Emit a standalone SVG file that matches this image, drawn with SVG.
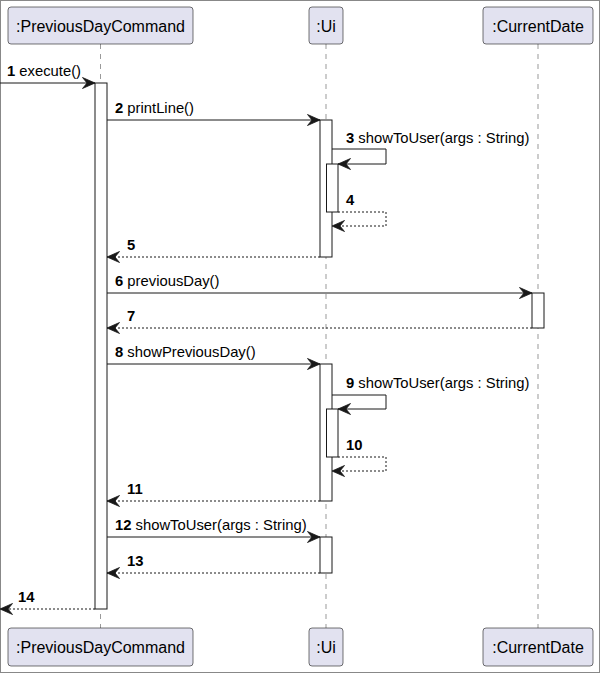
<svg xmlns="http://www.w3.org/2000/svg" width="600" height="673" viewBox="0 0 600 673">
<style>
.part rect{fill:#E2E2F0;stroke:#181818;stroke-width:0.6}
.part text{font-family:"Liberation Sans",Arial,sans-serif;font-size:16px;fill:#000;text-anchor:middle}
.life{stroke:#555;stroke-width:0.6;stroke-dasharray:5,5;fill:none}
.act{fill:#fff;stroke:#181818;stroke-width:1}
.msg{stroke:#181818;stroke-width:1;fill:none}
.ret{stroke:#181818;stroke-width:1;fill:none;stroke-dasharray:2,2}
.lbl{font-family:"Liberation Sans",Arial,sans-serif;font-size:14.8px;fill:#000}
.num{font-weight:bold}
</style>
<defs>
<marker id="ah" markerUnits="userSpaceOnUse" markerWidth="16" markerHeight="14" refX="13" refY="6" orient="auto" overflow="visible">
<path d="M0.5,0.5 L13,6 L0.5,11.5 L5,6 Z" fill="#181818" stroke="#181818" stroke-width="0.8" stroke-linejoin="round"/>
</marker>
</defs>
<rect x="0.5" y="0.5" width="599" height="672" fill="#fff" stroke="#888" stroke-width="1"/>
<g id="lifelines">
<line class="life" x1="100.5" y1="44" x2="100.5" y2="628"/>
<line class="life" x1="326" y1="44" x2="326" y2="628"/>
<line class="life" x1="538" y1="44" x2="538" y2="628"/>
</g>
<g id="PreviousDayCommand" class="part">
<rect x="8" y="7" width="185" height="37" rx="3"/>
<text x="100.5" y="32">:PreviousDayCommand</text>
<rect x="8" y="628" width="185" height="38" rx="3"/>
<text x="100.5" y="653">:PreviousDayCommand</text>
</g>
<g id="Ui" class="part">
<rect x="309" y="7" width="34" height="37" rx="3"/>
<text x="326" y="32">:Ui</text>
<rect x="309" y="628" width="34" height="38" rx="3"/>
<text x="326" y="653">:Ui</text>
</g>
<g id="CurrentDate" class="part">
<rect x="483" y="7" width="110" height="37" rx="3"/>
<text x="538" y="32">:CurrentDate</text>
<rect x="483" y="628" width="110" height="38" rx="3"/>
<text x="538" y="653">:CurrentDate</text>
</g>
<g id="activations">
<rect class="act" x="95" y="83" width="12" height="526"/>
<rect class="act" x="320" y="120" width="12" height="137"/>
<rect class="act" x="326.5" y="164" width="11.5" height="48"/>
<rect class="act" x="532" y="293" width="12" height="35"/>
<rect class="act" x="320" y="364" width="12" height="137"/>
<rect class="act" x="326.5" y="409" width="11.5" height="48"/>
<rect class="act" x="320" y="537" width="12" height="36"/>
</g>
<g id="connectors">
<line class="msg" x1="0" y1="83" x2="95" y2="83" marker-end="url(#ah)"/>
<line class="msg" x1="107" y1="120" x2="320" y2="120" marker-end="url(#ah)"/>
<polyline class="msg" points="332,149 386,149 386,164 338,164" marker-end="url(#ah)"/>
<polyline class="ret" points="338,212 386,212 386,226 332,226" marker-end="url(#ah)"/>
<line class="ret" x1="320" y1="257" x2="107" y2="257" marker-end="url(#ah)"/>
<line class="msg" x1="107" y1="293" x2="532" y2="293" marker-end="url(#ah)"/>
<line class="ret" x1="532" y1="328" x2="107" y2="328" marker-end="url(#ah)"/>
<line class="msg" x1="107" y1="364" x2="320" y2="364" marker-end="url(#ah)"/>
<polyline class="msg" points="332,395 386,395 386,409 338,409" marker-end="url(#ah)"/>
<polyline class="ret" points="338,457 386,457 386,471 332,471" marker-end="url(#ah)"/>
<line class="ret" x1="320" y1="501" x2="107" y2="501" marker-end="url(#ah)"/>
<line class="msg" x1="107" y1="537" x2="320" y2="537" marker-end="url(#ah)"/>
<line class="ret" x1="320" y1="573" x2="107" y2="573" marker-end="url(#ah)"/>
<line class="ret" x1="95" y1="609" x2="0" y2="609" marker-end="url(#ah)"/>
</g>
<g id="labels">
<text class="lbl" x="7" y="76"><tspan class="num">1</tspan> execute()</text>
<text class="lbl" x="115" y="113"><tspan class="num">2</tspan> printLine()</text>
<text class="lbl" x="346" y="143"><tspan class="num">3</tspan> showToUser(args : String)</text>
<text class="lbl" x="346" y="205"><tspan class="num">4</tspan></text>
<text class="lbl" x="127" y="250"><tspan class="num">5</tspan></text>
<text class="lbl" x="115" y="286"><tspan class="num">6</tspan> previousDay()</text>
<text class="lbl" x="127" y="321"><tspan class="num">7</tspan></text>
<text class="lbl" x="115" y="357"><tspan class="num">8</tspan> showPreviousDay()</text>
<text class="lbl" x="346" y="388"><tspan class="num">9</tspan> showToUser(args : String)</text>
<text class="lbl" x="346" y="450"><tspan class="num">10</tspan></text>
<text class="lbl" x="127" y="494"><tspan class="num">11</tspan></text>
<text class="lbl" x="115" y="530"><tspan class="num">12</tspan> showToUser(args : String)</text>
<text class="lbl" x="127" y="566"><tspan class="num">13</tspan></text>
<text class="lbl" x="18" y="602"><tspan class="num">14</tspan></text>
</g>
</svg>
